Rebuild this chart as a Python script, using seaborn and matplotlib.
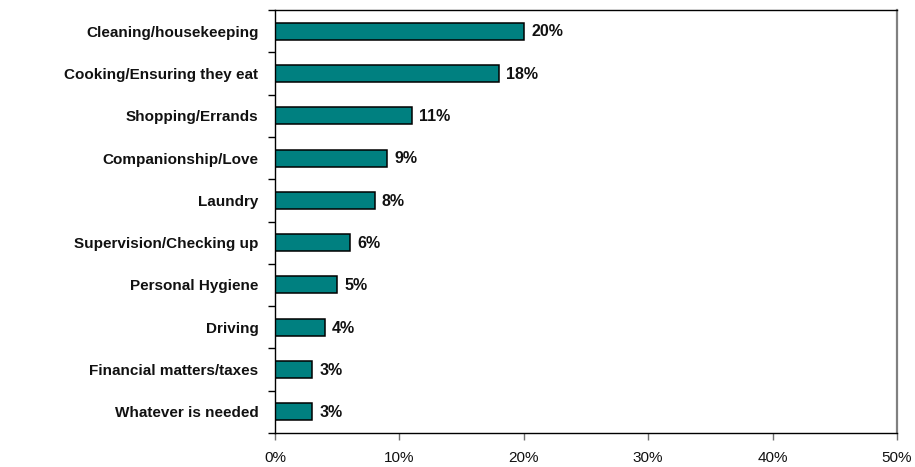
import matplotlib
matplotlib.use("Agg")
import matplotlib.pyplot as plt
import seaborn as sns
import numpy as np
import pandas as pd
from matplotlib.ticker import FixedLocator, PercentFormatter

categories = [
    "Cleaning/housekeeping",
    "Cooking/Ensuring they eat",
    "Shopping/Errands",
    "Companionship/Love",
    "Laundry",
    "Supervision/Checking up",
    "Personal Hygiene",
    "Driving",
    "Financial matters/taxes",
    "Whatever is needed",
]
shares = [20, 18, 11, 9, 8, 6, 5, 4, 3, 3]
x_ticks = [0, 10, 20, 30, 40, 50]

df = pd.DataFrame({"task": categories, "share": shares})

sns.set_theme(style="white")
plt.rcParams["font.family"] = ["Liberation Sans", "DejaVu Sans"]

fig = plt.figure(figsize=(9.15, 4.67), dpi=100)
ax = fig.add_axes([275 / 915, 1 - 433 / 467, (897 - 275) / 915, (433 - 10) / 467])

sns.barplot(data=df, x="share", y="task", orient="h", color="#008080",
            saturation=1, edgecolor="black", linewidth=1.1, width=0.4, ax=ax)

# value labels at the end of each bar
for i, v in enumerate(shares):
    ax.text(v + 0.6, i + 0.02, f"{v}%", va="center", ha="left",
            fontsize=11.5, fontweight="bold", color="#111111")

ax.set_xlim(0, 50)
ax.set_ylim(len(categories) - 0.5, -0.5)
ax.set_xticks(x_ticks)
ax.xaxis.set_major_formatter(PercentFormatter(decimals=0))
ax.set_xlabel("")
ax.set_ylabel("")

# category labels without ticks; boundary ticks between categories
ax.tick_params(axis="y", which="major", length=0, pad=12, labelsize=11)
for lbl in ax.get_yticklabels():
    lbl.set_fontweight("bold")
    lbl.set_color("#111111")
ax.yaxis.set_minor_locator(FixedLocator(np.arange(-0.5, len(categories), 1.0)))
ax.tick_params(axis="y", which="minor", left=True, length=5, width=1, color="black")
ax.tick_params(axis="x", which="major", bottom=True, length=5, width=1,
               color="#707070", pad=8, labelsize=11, labelcolor="#111111")

for side in ["left", "bottom", "top"]:
    ax.spines[side].set_visible(True)
    ax.spines[side].set_color("black")
    ax.spines[side].set_linewidth(1.0)
ax.spines["right"].set_visible(True)
ax.spines["right"].set_color("#808080")
ax.spines["right"].set_linewidth(1.6)

ax.grid(False)
fig.savefig("out.png", dpi=100, facecolor="white")
